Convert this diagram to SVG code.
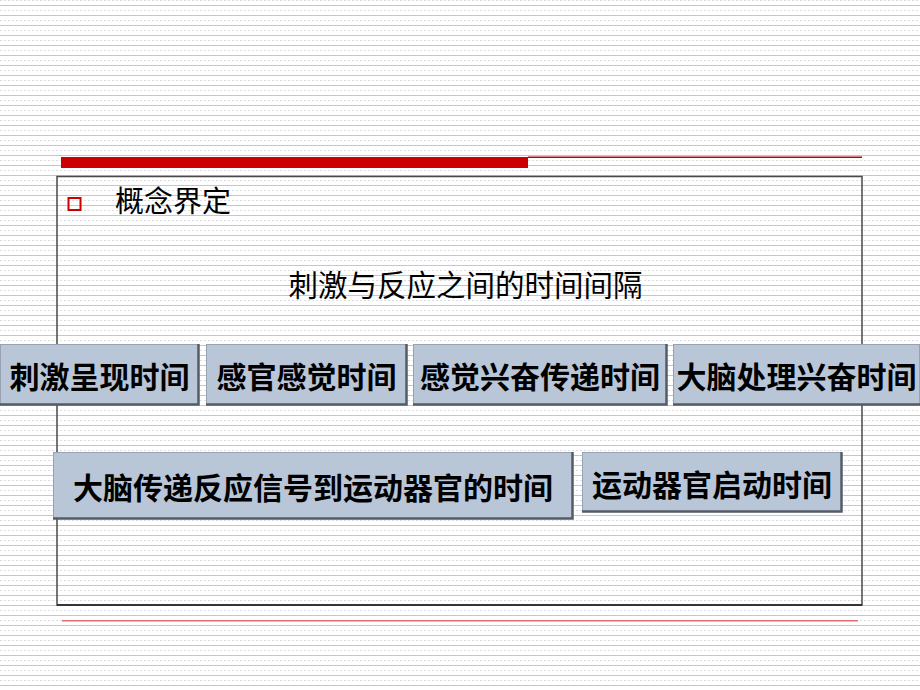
<svg xmlns="http://www.w3.org/2000/svg" width="920" height="690" viewBox="0 0 920 690">
<defs>
<pattern id="stripes" x="0" y="0" width="8" height="10" patternUnits="userSpaceOnUse">
<rect x="0" y="5" width="8" height="1" fill="#c4c8c4"/>
<rect x="0" y="0" width="2" height="1" fill="#e2d6ea"/>
<rect x="4" y="0" width="2" height="1" fill="#d6e2dc"/>
</pattern>
</defs>
<style>
.box{fill:#b8c6d8;stroke:#98a2b0;stroke-width:1}
.shade{fill:none;stroke:#545c66;stroke-width:2.5}
.bt{font-family:"Noto Sans CJK SC","Noto Sans CJK JP",sans-serif;font-size:30px;font-weight:bold;fill:#000;text-anchor:middle}
.hd{font-family:"Noto Sans CJK SC","Noto Sans CJK JP",sans-serif;fill:#000}
</style>
<rect width="920" height="690" fill="#ffffff"/>
<rect width="920" height="690" fill="url(#stripes)"/>
<g id="header">
<rect x="61" y="157" width="467" height="11" fill="#cc0000"/>
<rect x="528" y="156.5" width="334" height="1.5" fill="#c00000"/>
</g>
<g id="frame">
<rect x="57" y="176.5" width="805" height="428.5" fill="none" stroke="#4a4a4a" stroke-width="1.5"/>
<line x1="57" y1="605" x2="862" y2="605" stroke="#222" stroke-width="1.5"/>
</g>
<rect x="62" y="620" width="796" height="1.5" fill="#e07070"/>
<g id="bullet">
<rect x="68.5" y="198" width="12" height="12" fill="none" stroke="#cc0000" stroke-width="2"/>
<text class="hd" x="115" y="212" font-size="29">概念界定</text>
</g>
<g id="title">
<text class="hd" x="465.5" y="296" font-size="29.5" text-anchor="middle">刺激与反应之间的时间间隔</text>
</g>
<g id="n1">
<rect class="box" x="0.5" y="344.5" width="198" height="60"/>
<polyline class="shade" points="198.5,344 198.5,404.5 0,404.5"/>
<text class="bt" x="99.5" y="388">刺激呈现时间</text>
</g>
<g id="n2">
<rect class="box" x="206.5" y="344.5" width="200" height="60"/>
<polyline class="shade" points="406.5,344 406.5,404.5 206,404.5"/>
<text class="bt" x="306.5" y="388">感官感觉时间</text>
</g>
<g id="n3">
<rect class="box" x="413.5" y="344.5" width="253" height="60"/>
<polyline class="shade" points="666.5,344 666.5,404.5 413,404.5"/>
<text class="bt" x="540" y="388">感觉兴奋传递时间</text>
</g>
<g id="n4">
<rect class="box" x="673.5" y="344.5" width="246" height="60"/>
<polyline class="shade" points="673,404.5 920,404.5"/>
<text class="bt" x="796.5" y="388">大脑处理兴奋时间</text>
</g>
<g id="n5">
<rect class="box" x="53.5" y="452.5" width="519" height="66"/>
<polyline class="shade" points="572.5,452 572.5,518.5 53,518.5"/>
<text class="bt" x="313" y="499">大脑传递反应信号到运动器官的时间</text>
</g>
<g id="n6">
<rect class="box" x="582.5" y="452.5" width="259" height="59"/>
<polyline class="shade" points="841.5,452 841.5,511.5 582,511.5"/>
<text class="bt" x="712" y="496">运动器官启动时间</text>
</g>
<g id="connectors"></g>
</svg>
